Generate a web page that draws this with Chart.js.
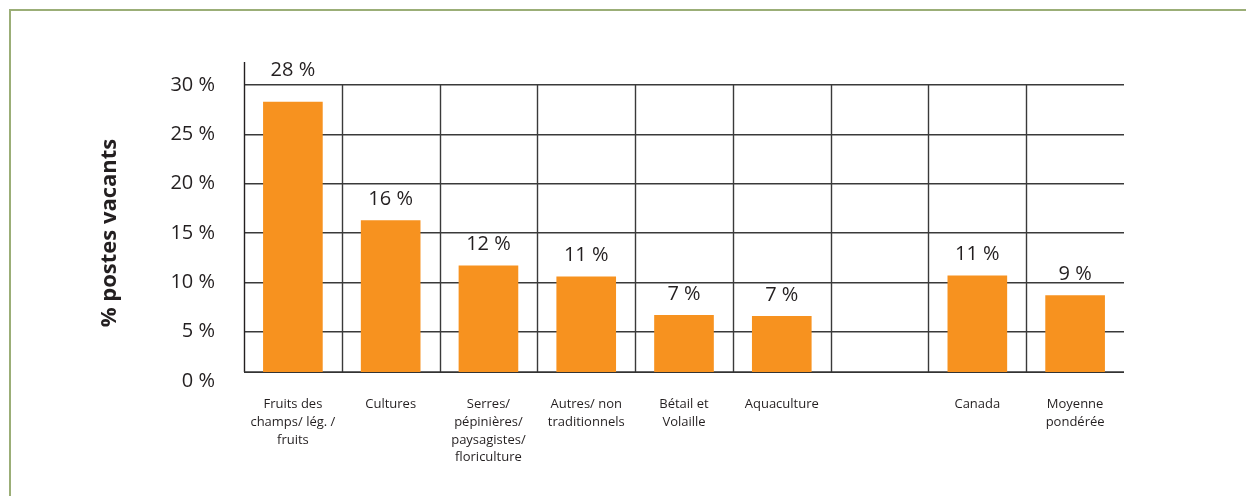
<!DOCTYPE html>
<html>
<head>
<meta charset="utf-8">
<script src="https://cdn.jsdelivr.net/npm/chart.js@4/dist/chart.umd.min.js"></script>
<style>
  html, body { margin: 0; padding: 0; background: #fff; overflow: hidden; }
  #wrap { position: relative; width: 1246px; height: 496px; }
  #frame { position: absolute; left: 9px; top: 9px; width: 1300px; height: 600px;
           border: 2px solid #9bae77; box-sizing: border-box; }
  canvas { position: absolute; left: 0; top: 0; }
</style>
</head>
<body>
<div id="wrap">
  <div id="frame"></div>
  <canvas id="chart" width="1246" height="496"></canvas>
</div>
<script>
// categories (multi-line labels)
var categories = [
    ['Fruits des', 'champs/ lég. /', 'fruits'],
    ['Cultures'],
    ['Serres/', 'pépinières/', 'paysagistes/', 'floriculture'],
    ['Autres/ non', 'traditionnels'],
    ['Bétail et', 'Volaille'],
    ['Aquaculture'],
    [''],
    ['Canada'],
    ['Moyenne', 'pondérée']
];
// % of vacant positions
var vacancyRates = [28.3, 16.3, 11.7, 10.6, 6.7, 6.6, null, 10.7, 8.7];
var yTicks = [0, 5, 10, 15, 20, 25, 30];
// the drawn x axis sits a little above the 0 % gridline in the original
var axisFloor = 0.9;

var ink = '#231f20';

// draws the frame lines (axis, category separators) under the bars
var framePlugin = {
    id: 'frameLines',
    beforeDatasetsDraw: function (chart) {
        var c = chart.ctx, area = chart.chartArea;
        var xs = chart.scales.x, ys = chart.scales.y;
        var base = ys.getPixelForValue(axisFloor);
        c.save();
        c.strokeStyle = '#3a3a3a';
        c.lineWidth = 1.4;
        for (var i = 1; i < categories.length; i++) {
            var bx = Math.round((xs.getPixelForTick(i - 1) + xs.getPixelForTick(i)) / 2) + 0.5;
            c.beginPath();
            c.moveTo(bx, area.top);
            c.lineTo(bx, base);
            c.stroke();
        }
        c.strokeStyle = ink;
        c.beginPath();
        c.moveTo(area.left + 0.5, area.top - 23);
        c.lineTo(area.left + 0.5, base);
        c.stroke();
        c.strokeStyle = '#333';
        c.lineWidth = 1.8;
        c.beginPath();
        c.moveTo(area.left, base);
        c.lineTo(area.right, base);
        c.stroke();
        c.restore();
    },
    afterDatasetsDraw: function (chart) {
        var c = chart.ctx, area = chart.chartArea;
        var meta = chart.getDatasetMeta(0);
        c.save();
        c.font = '20px "Open Sans", sans-serif';
        c.fillStyle = ink;
        c.textAlign = 'center';
        c.textBaseline = 'middle';
        meta.data.forEach(function (bar, i) {
            var v = vacancyRates[i];
            if (v === null) return;
            var ty = bar.y - 21;
            // keep the label clear of the top gridline
            if (ty < area.top + 10) ty = area.top - 15;
            c.fillText(Math.round(v) + ' %', bar.x, ty);
        });
        c.restore();
    }
};

var ctx = document.getElementById('chart').getContext('2d');
new Chart(ctx, {
    type: 'bar',
    data: {
        labels: categories,
        datasets: [{
            data: vacancyRates,
            base: axisFloor,
            backgroundColor: '#f7921f',
            borderWidth: 0,
            barPercentage: 0.61,
            categoryPercentage: 1.0
        }]
    },
    options: {
        responsive: false,
        animation: false,
        layout: { padding: { top: 85, right: 122, bottom: 0, left: 0 } },
        plugins: {
            legend: { display: false },
            tooltip: { enabled: false }
        },
        scales: {
            x: {
                grid: { display: false },
                border: { display: false },
                ticks: {
                    color: ink,
                    font: { family: 'Open Sans', size: 13, lineHeight: 1.38 },
                    padding: 6,
                    maxRotation: 0,
                    autoSkip: false
                },
                afterFit: function (s) { s.height = 115; }
            },
            y: {
                min: 0,
                max: 30,
                afterBuildTicks: function (s) {
                    s.ticks = yTicks.map(function (v) { return { value: v }; });
                },
                grid: {
                    drawTicks: false,
                    color: function (c) { return c.tick && c.tick.value === 0 ? 'rgba(0,0,0,0)' : '#3a3a3a'; },
                    lineWidth: 1.4
                },
                border: { display: false },
                ticks: {
                    color: ink,
                    font: { family: 'Open Sans', size: 20 },
                    padding: 29,
                    callback: function (v) { return v + ' %'; }
                },
                title: {
                    display: true,
                    text: '% postes vacants',
                    color: ink,
                    font: { family: 'Open Sans', size: 22, weight: 'bold' },
                    padding: { top: 97, bottom: 0 }
                },
                afterFit: function (s) { s.width = 244; }
            }
        }
    },
    plugins: [framePlugin]
});
</script>
</body>
</html>
